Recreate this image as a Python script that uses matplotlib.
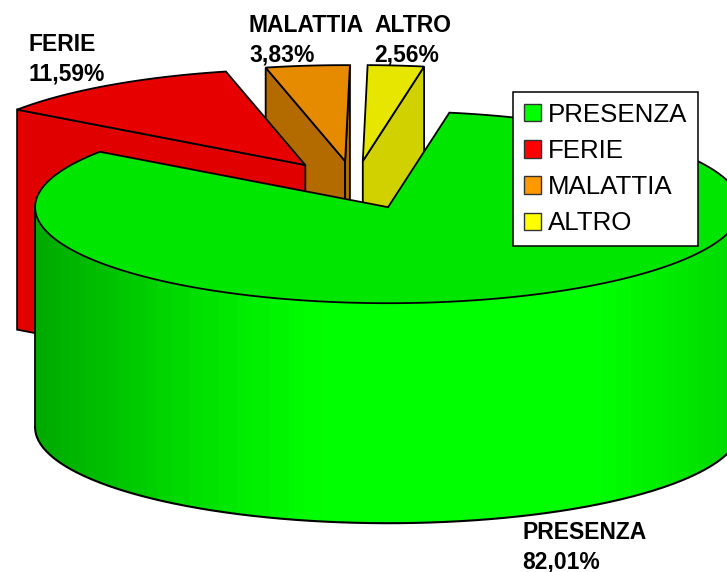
#!/usr/bin/env python3

import numpy as np
import matplotlib
matplotlib.use("Agg")
import matplotlib.pyplot as plt
from matplotlib.patches import Polygon, Patch

# Data
names = ["PRESENZA", "FERIE", "MALATTIA", "ALTRO"]
values = [82.01, 11.59, 3.83, 2.56]
colors = ["#00FF00", "#FF0000", "#FF9900", "#FFFF00"]

# Style / layout (canvas pixels)
cx, cy = 354.5, 185
rx, ry = 353, 96
depth = 220
explode = 0.25
start_angle = 80
top_shade = 0.9
cut_shade = [0.9, 0.88, 0.7, 0.82]
label_pos = [(522, 547), (28, 59), (249, 40), (374, 40)]
draw_order = [2, 3, 1, 0]

plt.rcParams["font.family"] = ["Liberation Sans", "DejaVu Sans"]

fig = plt.figure(figsize=(7.27, 5.72), dpi=100)
ax = fig.add_axes([0, 0, 1, 1])
ax.set_xlim(0, 727)
ax.set_ylim(572, 0)
ax.axis("off")


def shade(color, k):
    rgb = np.array(matplotlib.colors.to_rgb(color))
    return tuple(np.clip(rgb * k, 0, 1))


def on_ellipse(ox, oy, deg):
    t = np.radians(deg)
    return ox + rx * np.cos(t), oy - ry * np.sin(t)


def wall_light(deg):
    # darker towards the left, a little darker at the far right; 3 degree bands
    deg = round(deg / 3) * 3
    return np.interp(np.cos(np.radians(deg)), [-1, -0.53, -0.2, 0.6, 1], [0.66, 0.88, 1, 1, 0.84])


# Slice angles run clockwise from start_angle
spans = np.array(values) / sum(values) * 360
slices = []
a = start_angle
for i, span in enumerate(spans):
    a0, a1 = a, a - span
    mid = np.radians((a0 + a1) / 2)
    ox = cx + explode * rx * np.cos(mid)
    oy = cy - explode * ry * np.sin(mid)
    slices.append((i, a0, a1, ox, oy))
    a = a1

# Back slices first, the big one goes on top of them
z = 1
for i, a0, a1, ox, oy in [slices[k] for k in draw_order]:
    col = colors[i]
    face = shade(col, cut_shade[i])

    # cut faces, only the ones turned towards the viewer
    for deg, visible in ((a0, on_ellipse(ox, oy, a0)[0] < ox), (a1, on_ellipse(ox, oy, a1)[0] > ox)):
        if not visible:
            continue
        x, y = on_ellipse(ox, oy, deg)
        ax.add_patch(Polygon([(ox, oy), (x, y), (x, y + depth), (ox, oy + depth)],
                             closed=True, facecolor=face, edgecolor="black", linewidth=1.3, zorder=z))
        z += 1

    # outer wall, in thin strips so it gets the shading bands
    angles = np.linspace(a1, a0, 361)
    front = angles[np.sin(np.radians(angles)) <= 0]
    if len(front) > 1:
        for d0, d1 in zip(front[:-1], front[1:]):
            x0, y0 = on_ellipse(ox, oy, d0)
            x1, y1 = on_ellipse(ox, oy, d1)
            ax.add_patch(Polygon([(x0, y0), (x1, y1), (x1, y1 + depth), (x0, y0 + depth)],
                                 closed=True, facecolor=shade(col, wall_light((d0 + d1) / 2)),
                                 edgecolor="none", antialiased=False, zorder=z))
        z += 1
        xs, ys = on_ellipse(ox, oy, front)
        order = np.argsort(xs)
        ax.plot(xs[order], ys[order] + depth, color="black", linewidth=1.5, zorder=z)
        ax.plot([xs.min(), xs.min()], [ys[np.argmin(xs)], ys[np.argmin(xs)] + depth],
                color="black", linewidth=1.3, zorder=z)
        z += 1

    # top face
    xs, ys = on_ellipse(ox, oy, angles)
    pts = np.column_stack([np.r_[ox, xs], np.r_[oy, ys]])
    ax.add_patch(Polygon(pts, closed=True, facecolor=shade(col, top_shade),
                         edgecolor="black", linewidth=1.3, joinstyle="miter", zorder=z))
    z += 1

# Data labels
for name, val, (lx, ly) in zip(names, values, label_pos):
    txt = f"{val:.2f}".replace(".", ",")
    ax.text(lx, ly, f"{name}\n{txt}%", fontsize=16.5, fontweight="bold", color="black",
            ha="left", va="center", linespacing=1.38, zorder=z)

# Legend
handles = [Patch(facecolor=c, edgecolor="#333333", linewidth=1.0) for c in colors]
leg = ax.legend(handles, names, loc="upper left", bbox_to_anchor=(513, 92),
                bbox_transform=ax.transData, borderaxespad=0, fontsize=18.6,
                fancybox=False, framealpha=1, edgecolor="black", facecolor="white",
                handlelength=0.66, handleheight=0.66, handletextpad=0.26,
                labelspacing=0.47, borderpad=0.42)
leg.get_frame().set_linewidth(1.1)
leg.set_zorder(z + 1)

fig.savefig("out.png", dpi=100)
